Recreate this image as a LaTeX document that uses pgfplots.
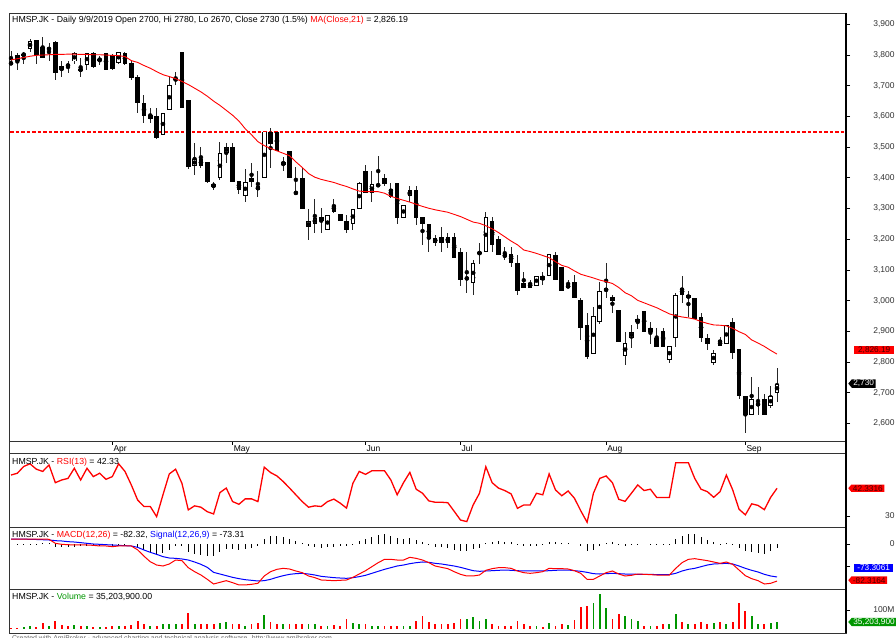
\documentclass[border=0pt]{standalone}
\usepackage{fontspec}
\setmainfont{Liberation Sans}
\usepackage{pgfplots}
\usepackage{pgfplotstable}
\pgfplotsset{compat=1.18}
\usetikzlibrary{shapes.symbols}
\definecolor{amired}{RGB}{255,0,0}
\definecolor{amiblue}{RGB}{0,0,255}
\definecolor{amigreen}{RGB}{0,150,0}
\definecolor{boxtext}{RGB}{70,0,0}

\pgfplotstableread{
i o h l c ma rsi macd sig v
0 3775 3812 3768 3771 3784 48.2 11.1 11.1 5
1 3800 3806 3752 3781 3788 49.0 11.1 11.0 5
2 3800 3811 3770 3803 3792 52.0 11.1 10.8 9
3 3820 3852 3811 3846 3796 53.2 11.1 10.4 16
4 3848 3850 3770 3800 3799 50.8 11.1 10.0 9
5 3825 3860 3790 3792 3800 49.8 11.0 9.5 29
6 3818 3839 3781 3822 3801 52.7 10.5 8.9 14
7 3842 3845 3719 3741 3802 44.8 1.5 7.4 41
8 3763 3779 3730 3750 3802 46.0 -0.7 6.7 18
9 3772 3781 3741 3760 3803 46.7 -1.5 5.2 16
10 3779 3810 3770 3806 3803 51.2 -2.2 4.4 18
11 3752 3790 3730 3752 3802 46.0 -2.2 3.0 13
12 3768 3808 3752 3806 3802 51.2 -2.2 1.5 13
13 3806 3810 3759 3762 3801 47.5 -3.0 0.0 9
14 3784 3798 3768 3786 3801 49.0 -4.4 -0.7 9
15 3806 3808 3752 3752 3800 46.3 -4.4 -1.5 9
16 3800 3802 3752 3754 3799 47.5 -5.9 -2.2 13
17 3774 3811 3770 3811 3798 53.2 -4.4 -3.0 13
18 3808 3811 3768 3770 3795 49.8 -4.4 -3.7 16
19 3774 3779 3719 3725 3782 43.8 -4.4 -4.4 18
20 3730 3735 3611 3643 3776 37.1 -13.0 -7.4 40
21 3643 3670 3578 3600 3766 34.2 -27.0 -13.3 22
22 3592 3629 3578 3604 3757 34.2 -39.5 -18.5 16
23 3603 3629 3525 3529 3746 29.7 -46.7 -23.0 16
24 3540 3611 3540 3611 3736 39.4 -48.9 -28.1 27
25 3622 3730 3622 3703 3730 48.7 -44.4 -31.1 25
26 3719 3745 3703 3722 3723 50.8 -35.6 -31.9 22
27 3811 3811 3627 3627 3714 44.5 -37.0 -33.3 22
28 3652 3652 3428 3437 3704 32.7 -52.6 -35.6 85
29 3439 3513 3410 3461 3692 34.5 -61.5 -40.0 23
30 3461 3502 3432 3439 3680 33.9 -68.9 -45.2 23
31 3453 3453 3383 3388 3666 31.9 -78.5 -51.9 27
32 3380 3388 3359 3370 3650 30.9 -88.9 -63.0 27
33 3399 3518 3394 3480 3636 40.4 -85.2 -66.7 31
34 3480 3513 3450 3502 3620 42.4 -81.5 -70.4 34
35 3502 3513 3388 3388 3604 36.4 -85.9 -74.1 27
36 3391 3391 3348 3361 3585 35.2 -91.0 -77.0 23
37 3341 3428 3323 3388 3560 37.6 -91.0 -79.3 16
38 3399 3450 3370 3388 3540 37.6 -89.6 -80.7 25
39 3372 3421 3339 3361 3518 36.4 -87.4 -82.2 31
40 3399 3551 3399 3551 3505 51.7 -71.1 -81.5 72
41 3551 3562 3432 3511 3496 49.3 -61.5 -78.5 34
42 3551 3551 3489 3489 3488 47.8 -56.3 -74.1 27
43 3442 3469 3421 3453 3480 45.3 -54.1 -70.4 23
44 3489 3489 3399 3399 3472 42.4 -55.6 -67.4 23
45 3352 3437 3350 3350 3452 39.4 -60.0 -65.9 23
46 3399 3432 3298 3298 3434 36.4 -63.7 -65.2 27
47 3240 3299 3198 3258 3414 33.9 -71.1 -66.7 27
48 3250 3331 3220 3269 3402 34.5 -74.8 -68.9 23
49 3271 3301 3220 3258 3395 34.2 -80.0 -71.9 16
50 3229 3280 3229 3280 3390 36.4 -80.7 -73.3 16
51 3312 3331 3285 3290 3385 37.5 -81.5 -74.8 20
52 3282 3282 3258 3258 3378 35.7 -80.7 -75.6 16
53 3260 3280 3220 3229 3372 33.5 -80.0 -76.3 49
54 3250 3298 3231 3298 3364 44.5 -74.1 -74.8 31
55 3298 3388 3298 3383 3357 49.8 -66.7 -72.6 27
56 3421 3442 3352 3352 3355 48.5 -59.3 -69.6 23
57 3350 3421 3323 3380 3355 50.1 -50.4 -65.2 16
58 3372 3472 3372 3380 3355 50.1 -41.5 -60.7 16
59 3399 3413 3372 3380 3350 50.1 -34.1 -56.3 14
60 3363 3383 3334 3339 3340 46.0 -34.1 -52.6 16
61 3383 3383 3250 3269 3333 39.4 -35.6 -48.9 13
62 3269 3312 3269 3312 3327 44.8 -35.6 -46.7 14
63 3341 3372 3323 3361 3321 49.4 -29.6 -43.7 16
64 3361 3372 3247 3269 3314 41.9 -31.9 -41.5 40
65 3272 3272 3182 3250 3307 40.1 -35.6 -40.0 68
66 3250 3250 3160 3200 3301 36.7 -41.5 -40.7 34
67 3204 3214 3179 3189 3296 36.1 -48.9 -43.0 23
68 3209 3240 3160 3189 3292 36.1 -51.9 -44.4 27
69 3209 3220 3171 3189 3288 35.9 -54.8 -46.7 27
70 3209 3220 3139 3139 3281 32.1 -61.5 -48.9 31
71 3160 3171 3048 3068 3274 28.2 -67.4 -51.9 49
72 3070 3160 3025 3075 3265 27.5 -71.1 -55.6 49
73 3059 3131 3019 3122 3256 34.9 -71.1 -59.3 63
74 3151 3189 3120 3160 3252 40.1 -68.9 -60.7 41
75 3157 3290 3157 3272 3244 51.9 -58.5 -60.0 54
76 3261 3274 3157 3182 3234 44.8 -54.8 -59.3 23
77 3200 3211 3149 3149 3222 42.4 -52.6 -58.5 16
78 3151 3176 3133 3142 3208 41.3 -52.6 -57.8 16
79 3152 3176 3111 3122 3194 39.8 -54.1 -58.5 16
80 3122 3149 3019 3033 3182 33.4 -60.0 -59.3 40
81 3059 3092 3041 3041 3165 34.9 -63.7 -60.0 27
82 3059 3068 3041 3041 3160 34.9 -65.2 -60.0 13
83 3049 3081 3049 3081 3154 40.1 -63.7 -60.0 13
84 3081 3092 3052 3068 3147 39.4 -61.5 -60.0 9
85 3081 3151 3081 3151 3140 48.7 -54.1 -59.3 31
86 3149 3160 3068 3068 3127 41.6 -54.8 -58.5 13
87 3111 3111 3033 3033 3115 39.0 -54.8 -57.8 27
88 3041 3068 3041 3052 3109 41.1 -55.6 -57.8 18
89 3062 3084 3008 3008 3097 37.9 -59.3 -59.3 45
90 3003 3008 2872 2911 3086 32.3 -65.2 -60.7 117
91 2921 2959 2810 2818 3080 27.2 -78.5 -63.0 124
92 2827 2981 2827 2951 3074 40.1 -78.5 -65.9 139
93 2929 3062 2925 3030 3067 46.7 -71.1 -66.7 184
94 3030 3122 3008 3041 3062 47.8 -63.7 -65.9 108
95 3011 3019 2961 3000 3056 44.8 -60.0 -65.2 50
96 2970 2970 2867 2867 3043 37.4 -66.7 -65.9 77
97 2820 2899 2791 2862 3026 36.5 -71.1 -66.7 67
98 2878 2921 2845 2899 3016 40.1 -69.6 -66.7 49
99 2929 2954 2907 2940 3001 43.8 -66.7 -67.4 40
100 2968 2968 2899 2899 2993 41.3 -67.4 -67.4 16
101 2899 2932 2859 2911 2985 41.9 -68.1 -67.4 13
102 2878 2911 2849 2849 2977 38.2 -68.9 -68.1 16
103 2902 2911 2849 2849 2967 38.2 -68.9 -68.1 23
104 2807 2851 2798 2851 2957 38.2 -68.9 -68.1 27
105 2878 3026 2849 3019 2951 53.7 -54.1 -65.2 77
106 3041 3081 2992 3019 2947 53.7 -41.5 -60.0 34
107 3008 3030 2948 3019 2944 53.7 -34.1 -56.3 22
108 3008 3008 2940 2940 2940 46.7 -32.6 -54.1 27
109 2948 2959 2867 2878 2932 41.9 -34.8 -50.4 34
110 2878 2892 2840 2859 2926 40.8 -37.0 -46.7 22
111 2798 2840 2791 2829 2921 38.3 -40.0 -44.4 31
112 2872 2883 2851 2851 2920 40.8 -43.0 -43.7 34
113 2859 2921 2859 2921 2918 48.2 -40.0 -43.0 22
114 2929 2943 2810 2829 2910 41.6 -45.2 -44.4 34
115 2842 2842 2679 2688 2899 33.0 -57.8 -48.9 135
116 2690 2690 2569 2628 2890 30.5 -70.4 -54.1 97
117 2628 2751 2628 2679 2872 35.4 -77.0 -58.5 67
118 2657 2718 2628 2668 2862 34.7 -81.5 -62.2 23
119 2679 2697 2628 2628 2851 32.8 -88.9 -67.4 27
120 2657 2721 2650 2688 2838 38.3 -87.4 -71.1 31
121 2700 2780 2670 2730 2826 42.3 -82.3 -73.3 35.2
}\data

\pgfplotstableread{
x y
-1 3550
133 3550
}\resline

\pgfplotsset{
  panel/.style={
    scale only axis, width=837bp, xmin=-0.32, xmax=131.9,
    clip mode=individual,
    axis line style={black!80, line width=0.9bp},
    tick style={black, line width=0.8bp},
    ytick pos=right, yticklabel pos=right,
    tick align=outside, major tick length=4bp,
    scaled y ticks=false,
    yticklabel style={font=\fontsize{8.5}{10}\selectfont, text=black!80, anchor=east, xshift=48bp},
    /pgf/number format/assume math mode=true,
    /pgf/number format/1000 sep={,},
    xtick=\empty,
  },
}
\tikzset{
  valbox/.style={font=\fontsize{8.3}{10}\selectfont, text=white, inner xsep=1.5bp, inner ysep=0.8bp, anchor=west},
  valarrow/.style={valbox, signal, signal to=west, signal pointer angle=100},
}

\begin{document}
\begin{tikzpicture}[x=1bp,y=1bp]
\useasboundingbox (0,0) rectangle (896,638);
\fill[white] (0,0) rectangle (896,638);

% ---------- price panel ----------
\begin{axis}[panel, at={(9bp,197bp)}, anchor=south west, height=428bp,
  ymin=2543, ymax=3937, ytick={2600,2700,...,3900},
  xtick={16,35,56,71,94,116}, xticklabels={Apr,May,Jun,Jul,Aug,Sep},
  xtick pos=bottom,
  xticklabel style={font=\fontsize{8.5}{10}\selectfont, anchor=north west, inner xsep=1bp, inner ysep=0.5bp}]
\addplot[draw=red, line width=1.5bp, mark=none, dash pattern=on 3.5bp off 2bp] table[x=x, y=y] {\resline};
\addplot[only marks, mark=none, error bars/.cd, y dir=both, y explicit, error mark=none,
  error bar style={line width=1bp, black!85}]
  table[x=i, y expr={(\thisrow{h}+\thisrow{l})/2}, y error expr={(\thisrow{h}-\thisrow{l})/2}] {\data};
\addplot[only marks, mark=none, error bars/.cd, y dir=both, y explicit, error mark=none,
  error bar style={line width=4.6bp, black}]
  table[x=i, y expr={(\thisrow{o}+\thisrow{c})/2}, y error expr={max(1.6,abs(\thisrow{c}-\thisrow{o})/2)}] {\data};
\addplot[only marks, mark=none, error bars/.cd, y dir=both, y explicit, error mark=none,
  error bar style={line width=2.6bp, white}]
  table[x=i, y expr={(\thisrow{o}+\thisrow{c})/2}, y error expr={max(0,(\thisrow{c}-\thisrow{o})/2-3.2)}] {\data};
\addplot[amired, line width=0.9bp, mark=none] table[x=i, y=ma] {\data};
\node[valbox, fill=amired, text=boxtext, minimum width=40bp] at (axis cs:131.9,2840) [xshift=8bp] {2,826.19};
\node[valarrow, fill=black] at (axis cs:131.9,2730) [xshift=2bp] {2,730};
\end{axis}

% ---------- RSI panel ----------
\begin{axis}[panel, at={(9bp,111bp)}, anchor=south west, height=74bp,
  ymin=25.1, ymax=58, ytick={30}]
\addplot[amired, line width=1.3bp, mark=none] table[x=i, y=rsi] {\data};
\node[valarrow, fill=amired, text=boxtext] at (axis cs:131.9,42.3316) [xshift=2bp] {42.3316};
\end{axis}

% ---------- MACD panel ----------
\begin{axis}[panel, at={(9bp,49bp)}, anchor=south west, height=62bp,
  ymin=-100, ymax=37.8, ytick={-50,0}, yticklabels={,0}]
\addplot[ycomb, black, line width=1bp, mark=none] table[x=i, y expr={\thisrow{macd}-\thisrow{sig}}] {\data};
\addplot[amiblue, line width=1bp, mark=none] table[x=i, y=sig] {\data};
\addplot[amired, line width=1bp, mark=none] table[x=i, y=macd] {\data};
\node[valbox, fill=amiblue, minimum width=39bp] at (axis cs:131.9,-53) [xshift=8bp] {-73.3061};
\node[valarrow, fill=amired, text=boxtext] at (axis cs:131.9,-80.5) [xshift=2bp] {-82.3164};
\end{axis}

% ---------- Volume panel ----------
\begin{axis}[panel, at={(9bp,5bp)}, anchor=south west, height=44bp,
  ymin=-24, ymax=213, ytick={100}, yticklabels={100M}]
\addplot[ycomb, amigreen, line width=1.8bp, mark=none] table[x=i, y expr={(\thisrow{c}>\thisrow{o})*\thisrow{v}}] {\data};
\addplot[ycomb, amired, line width=1.8bp, mark=none] table[x=i, y expr={(1-(\thisrow{c}>\thisrow{o}))*\thisrow{v}}] {\data};
\node[valarrow, fill=amigreen] at (axis cs:131.9,35.2) [xshift=2bp] {35,203,900};
\end{axis}

% date strip frame and right axis line
\draw[black!80, line width=0.9bp] (9,185) rectangle (846,197);
\draw[black, line width=1.5bp] (846,5) -- (846,625);

% panel headers
\begin{scope}[every node/.style={anchor=west, inner sep=0pt, font=\fontsize{8.8}{10}\selectfont}]
\node at (12,618) {HMSP.JK - Daily 9/9/2019 Open 2700, Hi 2780, Lo 2670, Close 2730 (1.5\%) \textcolor{amired}{MA(Close,21)} = 2,826.19};
\node at (12,176) {HMSP.JK - \textcolor{amired}{RSI(13)} = 42.33};
\node at (12,103) {HMSP.JK - \textcolor{amired}{MACD(12,26)} = -82.32, \textcolor{amiblue}{Signal(12,26,9)} = -73.31};
\node at (12,41) {HMSP.JK - \textcolor{amigreen}{Volume} = 35,203,900.00};
\end{scope}
\node[overlay, anchor=base west, inner sep=0pt, text=black!60, font=\fontsize{7}{8}\selectfont] at (12,-2.5)
  {Created with AmiBroker - advanced charting and technical analysis software. http://www.amibroker.com};
\end{tikzpicture}
\end{document}
